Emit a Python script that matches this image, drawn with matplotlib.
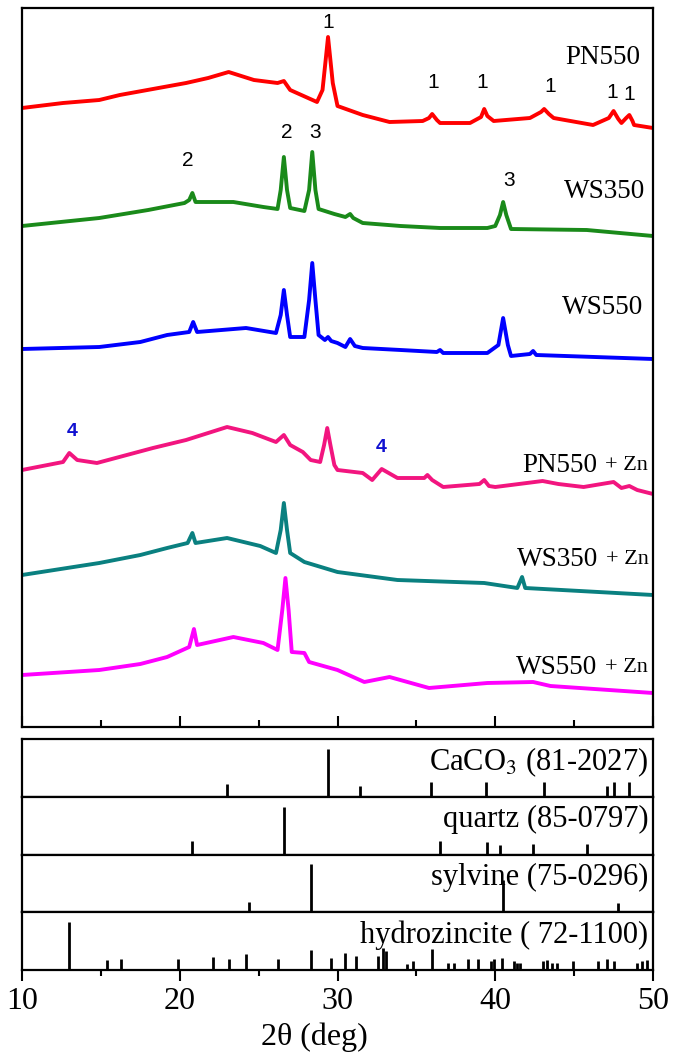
import numpy as np
import matplotlib.pyplot as plt
from matplotlib.ticker import MultipleLocator

plt.rcParams['font.family'] = ['Liberation Serif', 'DejaVu Serif']
plt.rcParams['mathtext.fontset'] = 'stix'

# XRD traces: (2theta, intensity above own baseline, a.u.)
pn550_x = [10.0, 12.6, 14.9, 16.2, 18.3, 20.4, 21.8, 23.1, 24.7, 26.2, 26.6, 27.0, 28.7, 29.05, 29.25,
           29.4, 29.55, 29.7, 30.0, 31.6, 33.3, 35.4, 35.8, 36.0, 36.3, 36.5, 38.4, 39.1, 39.3, 39.5,
           39.9, 42.2, 42.9, 43.1, 43.4, 43.7, 46.2, 47.2, 47.5, 47.8, 48.0, 48.3, 48.5, 48.7, 48.8,
           50.0]
pn550_y = [20, 25, 28, 33, 39, 45, 50, 56, 48, 45, 47, 38, 26, 38, 68,
           91, 68, 45, 22, 13, 6, 7, 10, 14, 8, 5, 5, 11, 19, 12,
           7, 10, 16, 19, 14, 10, 3, 10, 17, 9, 5, 10, 13, 7, 3,
           0]

ws350_x = [10.0, 14.9, 18.0, 20.3, 20.6, 20.8, 21.0, 23.4, 25.3, 26.2, 26.4, 26.6, 26.8, 27.0, 27.9,
           28.2, 28.4, 28.6, 28.8, 29.8, 30.5, 30.8, 31.0, 31.6, 34.0, 36.5, 39.5, 40.0, 40.3, 40.5,
           40.7, 41.0, 45.8, 50.0]
ws350_y = [10, 18, 26, 33, 36, 43, 34, 34, 29, 27, 46, 79, 46, 28, 25,
           46, 84, 46, 27, 22, 19, 22, 18, 13, 10, 8, 8, 10, 21, 34,
           21, 7, 6, 0]

ws550_x = [10.0, 14.9, 17.5, 19.2, 20.6, 20.85, 21.1, 24.2, 26.1, 26.4, 26.6, 26.8, 27.0, 27.9, 28.2,
           28.4, 28.6, 28.8, 29.2, 29.4, 29.6, 30.0, 30.5, 30.8, 31.1, 31.6, 34.0, 36.3, 36.5, 36.7,
           39.5, 40.2, 40.5, 40.8, 41.0, 42.2, 42.4, 42.6, 50.0]
ws550_y = [10, 12, 17, 24, 27, 37, 27, 31, 26, 44, 69, 44, 22, 22, 59,
           96, 59, 24, 19, 22, 18, 16, 12, 20, 13, 11, 9, 7, 9, 6,
           6, 14, 41, 14, 3, 5, 8, 4, 0]

pn550zn_x = [10.0, 12.6, 13.0, 13.5, 14.75, 18.3, 20.4, 23.0, 24.6, 26.1, 26.6, 27.0, 27.8, 28.3, 28.9,
             29.15, 29.35, 29.55, 29.8, 30.0, 31.6, 32.2, 32.8, 33.8, 35.5, 35.7, 36.0, 36.7, 39.0, 39.3,
             39.6, 40.0, 43.0, 44.0, 45.6, 47.5, 48.0, 48.5, 49.0, 50.0]
pn550zn_y = [24, 32, 41, 34, 31, 46, 54, 67, 61, 52, 59, 49, 42, 34, 32,
             49, 66, 49, 29, 24, 21, 14, 25, 16, 16, 19, 14, 7, 10, 14,
             8, 7, 13, 10, 7, 12, 6, 8, 4, 0]

ws350zn_x = [10.0, 14.9, 17.5, 19.2, 20.5, 20.8, 21.0, 23.0, 25.1, 26.1, 26.4, 26.6, 26.8, 27.0, 27.9,
             30.0, 33.8, 39.3, 41.4, 41.7, 41.9, 50.0]
ws350zn_y = [20, 32, 40, 47, 52, 62, 52, 57, 49, 42, 65, 92, 65, 42, 33,
             23, 15, 12, 7, 18, 7, 0]

ws550zn_x = [10.0, 14.9, 17.5, 19.2, 20.6, 20.9, 21.1, 23.4, 25.3, 26.2, 26.5, 26.7, 26.9, 27.1, 27.9,
             28.2, 30.0, 31.7, 33.3, 35.8, 39.5, 42.4, 43.5, 50.0]
ws550zn_y = [18, 23, 29, 36, 46, 64, 48, 56, 50, 43, 83, 115, 83, 41, 40,
             31, 23, 11, 16, 5, 10, 11, 7, 0]

traces = [(pn550_x, pn550_y), (ws350_x, ws350_y), (ws550_x, ws550_y),
          (pn550zn_x, pn550zn_y), (ws350zn_x, ws350zn_y), (ws550zn_x, ws550zn_y)]
offsets = [599, 491, 368, 233, 132, 34]
colors = ['#FF0000', '#1A8A1A', '#0000FF', '#F2157F', '#0A8080', '#FF00FF']

# peak markers
peak_lbl = ['1', '1', '1', '1', '1', '1', '2', '2', '3', '3']
peak_x = [29.4, 36.05, 39.2, 43.5, 47.4, 48.5, 20.5, 26.8, 28.6, 40.9]
peak_y = [705, 644, 645, 640, 635, 632, 566, 595, 594, 547]
zn_peak_x = [13.2, 32.8]
zn_peak_y = [295, 279]

# reference patterns (2theta, relative intensity)
caco3_x = [23.0, 29.4, 31.4, 35.9, 39.4, 43.1, 47.1, 47.5, 48.5]
caco3_i = [27, 100, 23, 31, 31, 31, 23, 31, 31]
quartz_x = [20.8, 26.6, 36.5, 39.5, 40.3, 42.4, 45.8]
quartz_i = [29, 98, 29, 27, 19, 21, 21]
sylvine_x = [24.4, 28.3, 40.5, 47.8]
sylvine_i = [21, 100, 67, 19]
hzn_x = [13.0, 15.4, 16.3, 19.9, 22.1, 23.1, 24.2, 26.2, 28.3, 29.6, 30.5, 31.2, 32.55, 32.9, 33.1,
         34.4, 34.8, 36.0, 37.0, 37.4, 38.3, 38.9, 39.7, 39.9, 40.4, 41.2, 41.4, 41.6, 43.0, 43.3,
         43.6, 43.9, 44.9, 46.5, 47.1, 47.5, 49.0, 49.3, 49.6]
hzn_i = [100, 21, 23, 23, 27, 23, 33, 23, 42, 25, 35, 29, 29, 46, 40,
         13, 19, 44, 15, 15, 23, 23, 19, 23, 25, 19, 15, 15, 19, 21,
         15, 15, 19, 19, 23, 19, 15, 19, 21]
refs = [(caco3_x, caco3_i, 'CaCO$_3$ (81-2027)'),
        (quartz_x, quartz_i, 'quartz (85-0797)'),
        (sylvine_x, sylvine_i, 'sylvine (75-0296)'),
        (hzn_x, hzn_i, 'hydrozincite ( 72-1100)')]

W, H = 675, 1064
fig = plt.figure(figsize=(W / 100, H / 100), dpi=100)

ax = fig.add_axes([22 / W, 1 - 727 / H, 631 / W, 719 / H])
for (x, y), off, c in zip(traces, offsets, colors):
    ax.plot(x, np.array(y) + off, color=c, lw=2.8, solid_joinstyle='round')
for lb, px, py in zip(peak_lbl, peak_x, peak_y):
    ax.text(px, py, lb, ha='center', va='center', fontsize=15, family='Liberation Sans')
for px, py in zip(zn_peak_x, zn_peak_y):
    ax.text(px, py, '4', ha='center', va='center', fontsize=14, fontweight='bold',
            color='#1010D0', family='Liberation Sans')

ax.text(49.2, 669, 'PN550', ha='right', va='center', fontsize=19.5)
ax.text(49.5, 535, 'WS350', ha='right', va='center', fontsize=19.5)
ax.text(49.35, 419, 'WS550', ha='right', va='center', fontsize=19.5)
for nm, xr, yy in [('PN550', 46.45, 262), ('WS350', 46.5, 167), ('WS550', 46.45, 60)]:
    ax.text(xr, yy, nm, ha='right', va='center', fontsize=19.5)
    ax.text(xr + 3.25, yy, '+ Zn', ha='right', va='center', fontsize=16)

ax.set_xlim(10, 50)
ax.set_ylim(0, 719)
ax.set_yticks([])
ax.xaxis.set_major_locator(MultipleLocator(10))
ax.xaxis.set_minor_locator(MultipleLocator(5))
ax.tick_params(axis='x', which='major', direction='in', length=8, width=1.5, labelbottom=False)
ax.tick_params(axis='x', which='minor', direction='in', length=5, width=1.5)
for s in ax.spines.values():
    s.set_linewidth(1.6)

top_px = 739
ph = (970 - 739) / 4
for k, (rx, ri, lab) in enumerate(refs):
    a = fig.add_axes([22 / W, 1 - (top_px + (k + 1) * ph) / H, 631 / W, ph / H])
    a.vlines(rx, 0, ri, color='black', lw=2)
    a.set_xlim(10, 50)
    a.set_ylim(0, 120)
    a.set_yticks([])
    a.text(49.7, 72, lab, ha='right', va='center', fontsize=22)
    for s in a.spines.values():
        s.set_linewidth(1.6)
    if k < 3:
        a.set_xticks([])
    else:
        a.xaxis.set_major_locator(MultipleLocator(10))
        a.xaxis.set_minor_locator(MultipleLocator(5))
        a.tick_params(axis='x', which='major', direction='out', length=8, width=1.5,
                      labelsize=23, pad=4)
        a.tick_params(axis='x', which='minor', direction='out', length=4, width=1.5)

fig.text(314 / W, 1 - 1037 / H, '2θ (deg)', ha='center', va='center', fontsize=23)

fig.savefig('out.png', dpi=100)
